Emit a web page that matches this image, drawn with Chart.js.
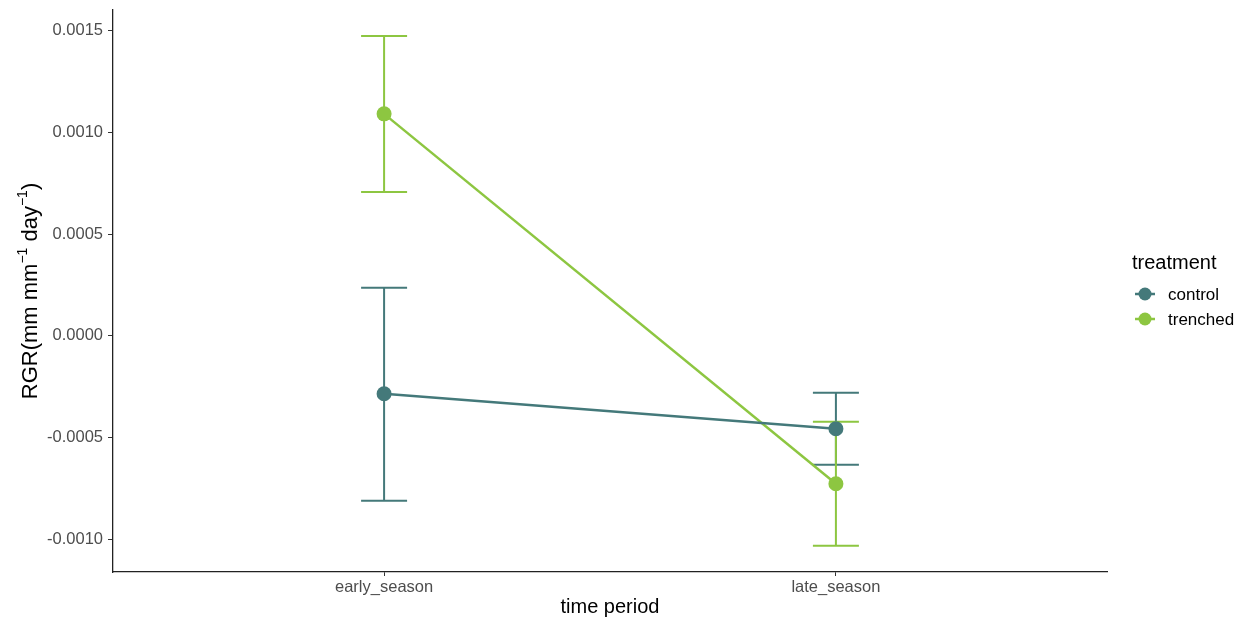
<!DOCTYPE html>
<html>
<head>
<meta charset="utf-8">
<script src="https://cdn.jsdelivr.net/npm/chart.js@4/dist/chart.umd.min.js"></script>
<style>
  html, body { margin: 0; padding: 0; background: #fff; }
  #wrap { width: 1247px; height: 619px; position: relative; }
</style>
</head>
<body>
<div id="wrap"><canvas id="rgrChart" width="1247" height="619"></canvas></div>
<script>
// categories on the x axis
const periods = ["early_season", "late_season"];
const treatments = ["control", "trenched"];

// mean RGR and error bar limits
const controlMean = [-0.000285, -0.000457];
const controlLow = [-0.000811, -0.000634];
const controlHigh = [0.000236, -0.000280];

const trenchedMean = [0.001092, -0.000728];
const trenchedLow = [0.000708, -0.001033];
const trenchedHigh = [0.001475, -0.000423];

const yTicks = [-0.0010, -0.0005, 0.0000, 0.0005, 0.0010, 0.0015];

const colors = { control: "#44797a", trenched: "#8dc641" };
const FONT = "'Liberation Sans', Arial, sans-serif";

function toPoints(vals, lo, hi) {
    return vals.map((v, i) => ({ x: i + 1, y: v, lo: lo[i], hi: hi[i] }));
}

// error bars drawn under lines and points
const errorBars = {
    id: "errorBars",
    beforeDatasetsDraw(chart) {
        const ctx = chart.ctx;
        const xs = chart.scales.x, ys = chart.scales.y;
        chart.data.datasets.forEach(ds => {
            ctx.save();
            ctx.strokeStyle = ds.borderColor;
            ctx.lineWidth = 2;
            ds.data.forEach(p => {
                const x = xs.getPixelForValue(p.x);
                const y1 = ys.getPixelForValue(p.hi);
                const y2 = ys.getPixelForValue(p.lo);
                const w = 23;
                ctx.beginPath();
                ctx.moveTo(x, y1); ctx.lineTo(x, y2);
                ctx.moveTo(x - w, y1); ctx.lineTo(x + w, y1);
                ctx.moveTo(x - w, y2); ctx.lineTo(x + w, y2);
                ctx.stroke();
            });
            ctx.restore();
        });
    }
};

// y title with real superscripts
const yTitle = {
    id: "yTitle",
    afterDraw(chart) {
        const ctx = chart.ctx;
        const parts = [
            ["RGR(mm mm", false], ["\u22121", true], [" day", false], ["\u22121", true], [")", false]
        ];
        const big = "22px " + FONT, small = "14px " + FONT;
        let total = 0;
        parts.forEach(p => { ctx.font = p[1] ? small : big; total += ctx.measureText(p[0]).width; });
        const area = chart.chartArea;
        ctx.save();
        ctx.translate(29, (area.top + area.bottom) / 2);
        ctx.rotate(-Math.PI / 2);
        ctx.fillStyle = "#000";
        ctx.textBaseline = "alphabetic";
        let x = -total / 2;
        parts.forEach(p => {
            ctx.font = p[1] ? small : big;
            ctx.fillText(p[0], x, p[1] ? -2 : 8);
            x += ctx.measureText(p[0]).width;
        });
        ctx.restore();
    }
};

// legend at the right, ggplot style
const sideLegend = {
    id: "sideLegend",
    afterDraw(chart) {
        const ctx = chart.ctx;
        ctx.save();
        ctx.fillStyle = "#000";
        ctx.font = "20px " + FONT;
        ctx.textBaseline = "middle";
        ctx.fillText("treatment", 1132, 263);
        ctx.font = "17px " + FONT;
        treatments.forEach((t, i) => {
            const y = 294 + i * 25;
            ctx.strokeStyle = colors[t];
            ctx.lineWidth = 2.5;
            ctx.beginPath();
            ctx.moveTo(1135, y); ctx.lineTo(1155, y);
            ctx.stroke();
            ctx.fillStyle = colors[t];
            ctx.beginPath();
            ctx.arc(1145, y, 6.5, 0, Math.PI * 2);
            ctx.fill();
            ctx.fillStyle = "#000";
            ctx.fillText(t, 1168, y + 1);
        });
        ctx.restore();
    }
};

const ctx = document.getElementById("rgrChart").getContext("2d");

new Chart(ctx, {
    type: "line",
    data: {
        datasets: [
            {
                label: "control",
                data: toPoints(controlMean, controlLow, controlHigh),
                borderColor: colors.control,
                backgroundColor: colors.control,
                borderWidth: 2.5,
                pointRadius: 7.5,
                pointHoverRadius: 7.5,
                pointBorderWidth: 0
            },
            {
                label: "trenched",
                data: toPoints(trenchedMean, trenchedLow, trenchedHigh),
                borderColor: colors.trenched,
                backgroundColor: colors.trenched,
                borderWidth: 2.5,
                pointRadius: 7.5,
                pointHoverRadius: 7.5,
                pointBorderWidth: 0
            }
        ]
    },
    options: {
        responsive: false,
        animation: false,
        layout: { padding: { left: 0, right: 140, top: 10, bottom: 0 } },
        plugins: { legend: { display: false }, tooltip: { enabled: false } },
        scales: {
            x: {
                type: "linear",
                min: 0.4,
                max: 2.6,
                afterBuildTicks: s => { s.ticks = [{ value: 1 }, { value: 2 }]; },
                afterFit: s => { s.height = 47; s.paddingLeft = 0; s.paddingRight = 0; },
                ticks: {
                    callback: v => periods[v - 1] || "",
                    color: "#4d4d4d",
                    font: { family: FONT, size: 16.5 },
                    padding: 2,
                    maxRotation: 0
                },
                grid: { drawOnChartArea: false, color: "#333", tickLength: 4, tickWidth: 1 },
                border: { color: "#222", width: 1.3 },
                title: {
                    display: true,
                    text: "time period",
                    color: "#000",
                    font: { family: FONT, size: 20 },
                    padding: { top: 0, bottom: 0 }
                }
            },
            y: {
                min: -0.001162,
                max: 0.001603,
                afterBuildTicks: s => { s.ticks = yTicks.map(v => ({ value: v })); },
                afterFit: s => { s.width = 113; s.paddingTop = 0; s.paddingBottom = 0; },
                ticks: {
                    callback: v => v.toFixed(4),
                    color: "#4d4d4d",
                    font: { family: FONT, size: 16.5 },
                    padding: 5
                },
                grid: { drawOnChartArea: false, color: "#333", tickLength: 5, tickWidth: 1 },
                border: { color: "#222", width: 1.3 },
                title: { display: false }
            }
        }
    },
    plugins: [errorBars, yTitle, sideLegend]
});
</script>
</body>
</html>
